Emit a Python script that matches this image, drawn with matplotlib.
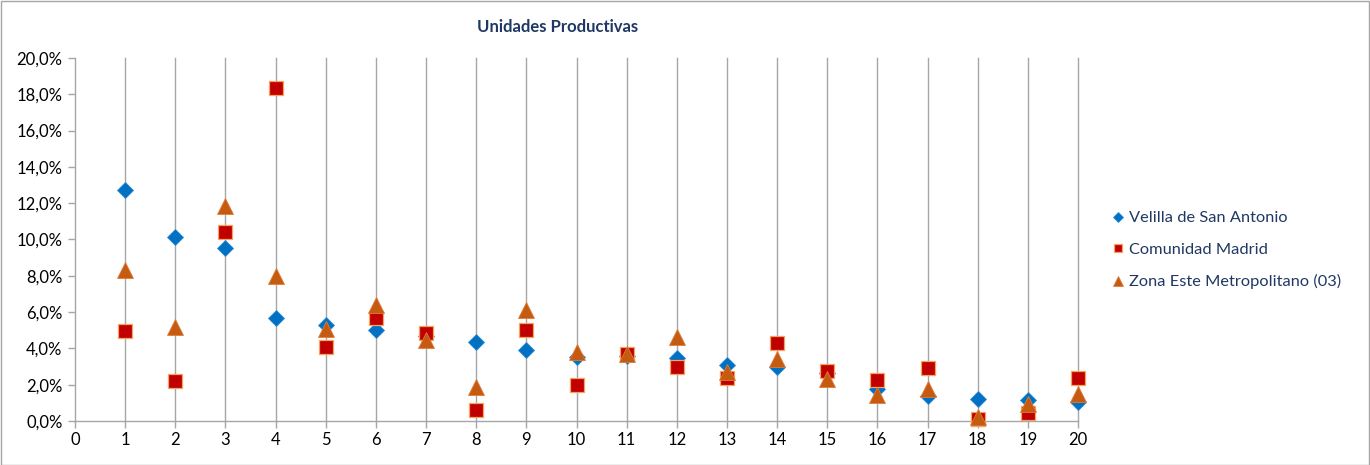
import matplotlib
matplotlib.use("Agg")
import matplotlib.pyplot as plt
from matplotlib.ticker import FuncFormatter, MultipleLocator
from matplotlib.patches import Rectangle

plt.rcParams['font.family'] = ['Lato', 'DejaVu Sans']

title = "Unidades Productivas"
x_vals = list(range(1, 21))
series_names = ["Velilla de San Antonio", "Comunidad Madrid", "Zona Este Metropolitano (03)"]

velilla = [12.71, 10.13, 9.54, 5.70, 5.28, 5.02, 4.69, 4.34, 3.91, 3.55,
           3.60, 3.45, 3.08, 2.95, 2.62, 1.74, 1.38, 1.20, 1.15, 1.05]
madrid = [4.98, 2.20, 10.42, 18.36, 4.06, 5.67, 4.85, 0.63, 5.00, 1.96,
          3.71, 2.99, 2.35, 4.28, 2.77, 2.25, 2.93, 0.13, 0.44, 2.35]
zona = [8.34, 5.16, 11.85, 7.99, 5.07, 6.37, 4.45, 1.86, 6.11, 3.82,
        3.69, 4.65, 2.71, 3.40, 2.29, 1.46, 1.75, 0.22, 0.92, 1.48]

W, H = 1370, 465
fig = plt.figure(figsize=(W / 100, H / 100), dpi=100)
fig.patches.append(Rectangle((0.0005, 0.001), 0.999, 0.997, transform=fig.transFigure,
                             fill=False, edgecolor='#A6A6A6', linewidth=1.0))

ax = fig.add_axes([75 / W, 1 - 421 / H, (1078 - 75) / W, (421 - 58) / H])

grid_col = '#A6A6A6'
for xv in x_vals:
    ax.axvline(xv, color=grid_col, linewidth=1.0, zorder=1, clip_on=False)

ax.plot(x_vals, velilla, linestyle='none', marker='D', markersize=8.2,
        markerfacecolor='#0070C0', markeredgecolor='#2E8BD8', markeredgewidth=0.6,
        label=series_names[0], zorder=3, clip_on=False)
ax.plot(x_vals, madrid, linestyle='none', marker='s', markersize=9.5,
        markerfacecolor='#C00000', markeredgecolor='#F4A460', markeredgewidth=0.9,
        label=series_names[1], zorder=4, clip_on=False)
ax.plot(x_vals, zona, linestyle='none', marker='^', markersize=12,
        markerfacecolor='#C55A11', markeredgecolor='#E07B39', markeredgewidth=0.6,
        label=series_names[2], zorder=5, clip_on=False)

ax.set_xlim(0, 20)
ax.set_ylim(0, 20)
ax.xaxis.set_major_locator(MultipleLocator(1))
ax.yaxis.set_major_locator(MultipleLocator(2))
ax.yaxis.set_major_formatter(FuncFormatter(lambda v, p: f"{v:.1f}%".replace('.', ',')))

for s in ['top', 'right']:
    ax.spines[s].set_visible(False)
for s in ['left', 'bottom']:
    ax.spines[s].set_color(grid_col)
    ax.spines[s].set_linewidth(1.0)

ax.tick_params(axis='both', colors=grid_col, labelcolor='black', labelsize=12,
               length=5, width=1.0, direction='out')
ax.tick_params(axis='x', pad=3)
ax.tick_params(axis='y', pad=4)

fig.text(558 / W, 1 - 27 / H, title, ha='center', va='center', fontsize=12,
         fontweight='bold', color='#1F3864')

leg = ax.legend(loc='upper left', bbox_to_anchor=(1113 / W, 1 - 211 / H),
                bbox_transform=fig.transFigure, frameon=False, fontsize=11.8,
                markerscale=0.65, handlelength=0.6, handletextpad=0.4,
                labelspacing=1.05, borderaxespad=0, borderpad=0)
for t in leg.get_texts():
    t.set_color('#1F3864')

fig.savefig("out.png", dpi=100)
